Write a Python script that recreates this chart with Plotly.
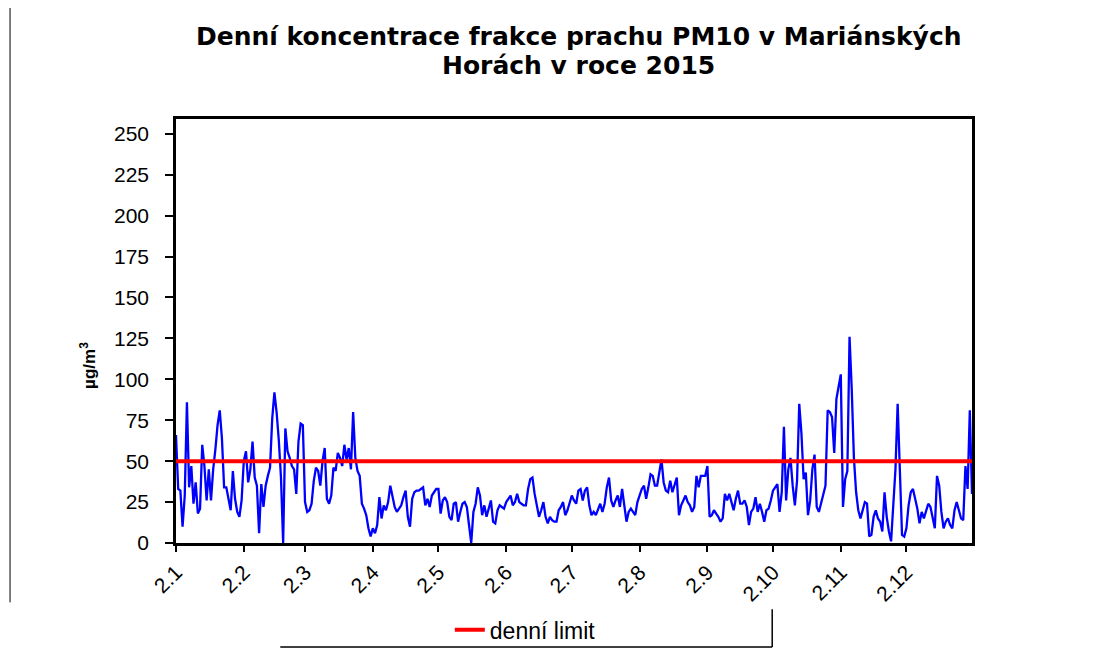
import pandas as pd
import plotly.graph_objects as go

# denní hodnoty PM10 (µg/m3), po měsících od 2.1.
leden = [66, 33, 32, 10, 29, 86, 34, 47, 24, 37, 18, 21, 60, 47, 26, 45, 26, 45, 57, 72,
         81, 64, 34, 34, 27, 20, 44, 27, 19, 16, 26]
unor = [50, 56, 37, 45, 62, 40, 35, 6, 36, 22, 35, 41, 46, 76, 92, 80, 63, 40, 0, 70,
        56, 52, 47, 45, 30, 62, 73, 72]
brezen = [25, 19, 20, 24, 38, 46, 44, 35, 50, 58, 27, 24, 29, 46, 44, 55, 52, 47, 60, 51,
          58, 45, 80, 52, 44, 41, 24, 21, 17, 9, 4]
duben = [9, 6, 11, 28, 15, 23, 20, 25, 35, 28, 22, 19, 21, 23, 28, 32, 16, 10, 27, 31,
         32, 32, 33, 34, 23, 27, 22, 29, 31, 33]
kveten = [33, 18, 26, 28, 25, 16, 14, 24, 25, 13, 19, 24, 25, 22, 11, 0, 19, 24, 34, 29,
          17, 23, 16, 22, 26, 13, 12, 20, 23, 22, 21]
cerven = [25, 27, 29, 23, 25, 30, 25, 24, 23, 23, 33, 39, 40, 30, 22, 16, 20, 25, 16, 12,
          16, 14, 13, 13, 20, 22, 25, 17, 20, 24]
cervenec = [29, 26, 24, 32, 33, 26, 32, 34, 23, 17, 19, 17, 20, 24, 19, 24, 34, 40, 26, 22,
            26, 29, 22, 33, 23, 13, 19, 21, 19, 17, 25]
srpen = [29, 33, 35, 27, 34, 42, 41, 35, 35, 44, 51, 37, 32, 31, 38, 31, 35, 40, 17, 23,
         26, 29, 25, 23, 19, 22, 41, 34, 41, 41, 41]
zari = [47, 16, 17, 20, 18, 16, 13, 15, 30, 26, 30, 25, 20, 27, 32, 24, 24, 26, 22, 11,
        19, 21, 28, 19, 24, 19, 13, 20, 21, 26]
rijen = [32, 34, 36, 19, 31, 71, 26, 45, 52, 35, 23, 38, 85, 67, 39, 43, 17, 26, 45, 54,
         22, 19, 25, 29, 35, 81, 80, 77, 55, 88, 97]
listopad = [103, 22, 39, 44, 126, 94, 52, 31, 20, 15, 20, 25, 24, 4, 5, 16, 20, 15, 13, 7,
            31, 16, 7, 1, 23, 45, 85, 39, 5, 4]
prosinec = [9, 23, 31, 33, 27, 21, 12, 19, 15, 20, 24, 22, 15, 9, 41, 35, 19, 9, 13, 15,
            11, 9, 20, 25, 20, 15, 14, 47, 33, 81, 30]

limit = 50
tick_labels = ["2.1", "2.2", "2.3", "2.4", "2.5", "2.6", "2.7", "2.8", "2.9", "2.10", "2.11", "2.12"]
titulek = ["Denní koncentrace frakce prachu PM10 v Mariánských", "Horách v roce 2015"]

hodnoty = leden + unor + brezen + duben + kveten + cerven + cervenec + srpen + zari + rijen + listopad + prosinec
dny = pd.date_range("2015-01-02", periods=len(hodnoty), freq="D")
tick_vals = [pd.Timestamp(2015, m, 2) for m in range(1, 13)]

font = "Liberation Sans, Arial, sans-serif"
font_nadpis = "DejaVu Sans, Liberation Sans, sans-serif"

fig = go.Figure()
fig.add_trace(go.Scatter(
    x=dny, y=hodnoty, mode="lines",
    line=dict(color="#0000FF", width=2.3),
    showlegend=False
))
fig.add_trace(go.Scatter(
    x=[dny[0], dny[-1]], y=[limit, limit], mode="lines",
    name="denní limit",
    line=dict(color="#FF0000", width=4)
))

# titulek jako dvě anotace, aby šlo nastavit řádkování
nadpis = [
    dict(text=f"<b>{t}</b>", xref="paper", yref="paper", x=0.506, y=yy,
         xanchor="center", yanchor="middle", showarrow=False,
         font=dict(size=25, family=font_nadpis, color="black"))
    for t, yy in zip(titulek, [1.194, 1.126])
]

fig.update_layout(
    width=1111, height=655,
    margin=dict(l=168, r=147, t=111, b=108),
    paper_bgcolor="white", plot_bgcolor="white",
    font=dict(family=font, color="black"),
    legend=dict(
        orientation="h", x=0.344, xanchor="left", y=-0.205, yanchor="middle",
        font=dict(size=23, family=font), bgcolor="rgba(0,0,0,0)"
    ),
    annotations=nadpis + [
        dict(text="<b>µg/m<sup>3</sup></b>", xref="paper", yref="paper", x=-0.1106, y=0.42,
             xanchor="center", yanchor="middle",
             textangle=-90, showarrow=False, font=dict(size=17, family=font, color="black"))
    ],
    shapes=[
        dict(type="line", xref="paper", yref="paper", x0=-0.2085, x1=-0.2085, y0=-0.14, y1=1.28,
             line=dict(color="black", width=1)),
        dict(type="line", xref="paper", yref="paper", x0=0.131, x1=0.749, y0=-0.245, y1=-0.245,
             line=dict(color="black", width=1.5)),
        dict(type="line", xref="paper", yref="paper", x0=0.749, x1=0.749, y0=-0.156, y1=-0.245,
             line=dict(color="black", width=1.5)),
    ]
)

fig.update_xaxes(
    range=[dny[0], dny[-1]], automargin=False,
    tickvals=tick_vals, ticktext=tick_labels, tickangle=-45,
    ticks="outside", ticklen=6, tickwidth=1.5, tickcolor="black",
    tickfont=dict(size=21, family=font),
    showline=True, linecolor="black", linewidth=2.5, mirror=True,
    showgrid=False, zeroline=False
)
fig.update_yaxes(
    range=[0, 259], tickvals=list(range(0, 251, 25)), automargin=False,
    ticks="outside", ticklen=8, tickwidth=1.5, tickcolor="black",
    tickfont=dict(size=21, family=font), ticklabelstandoff=12,
    showline=True, linecolor="black", linewidth=2.5, mirror=True,
    showgrid=False, zeroline=False
)

fig.write_html("out.html")
